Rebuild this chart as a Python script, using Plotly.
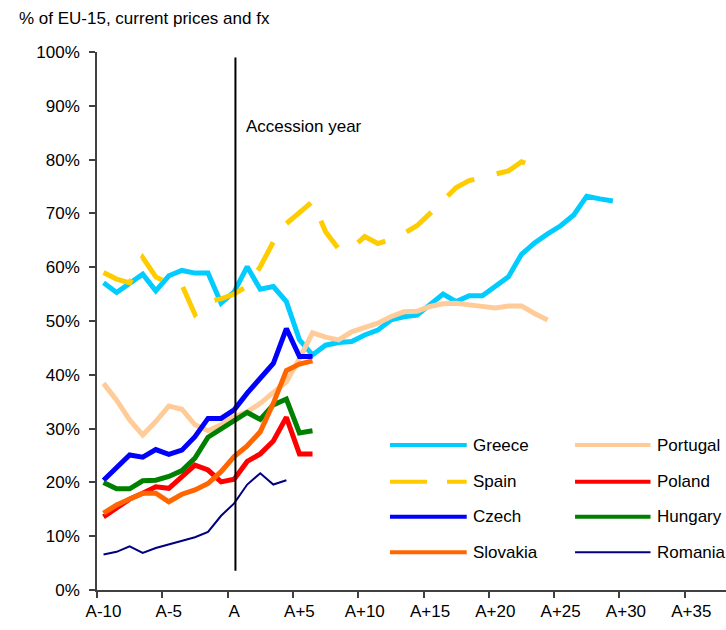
import plotly.graph_objects as go

START_YEAR = -10

GREECE = [57.1, 55.3, 57.0, 58.7, 55.6, 58.4, 59.4, 58.9, 58.9, 53.3,
          55.4, 60.1, 55.9, 56.4, 53.6, 46.5, 43.7, 45.5, 46.0, 46.2,
          47.4, 48.3, 50.2, 50.8, 51.1, 53.0, 55.0, 53.6, 54.7, 54.7,
          56.5, 58.2, 62.4, 64.5, 66.2, 67.7, 69.7, 73.2, 72.7, 72.3]
SPAIN = [59.0, 57.8, 57.1, 61.8, 58.2, 57.0, 56.7, 51.2, 53.6, 54.1,
         55.0, 56.5, 60.1, 64.7, 68.1, 70.3, 72.2, 66.6, 63.4, 63.5,
         65.7, 64.4, 65.2, 66.3, 67.7, 70.0, 72.5, 74.8, 76.1, 76.7,
         77.5, 77.9, 79.6, 78.7]
PORTUGAL = [38.4, 35.3, 31.6, 28.8, 31.3, 34.2, 33.6, 30.7, 29.6, 30.7,
            32.2, 33.1, 34.7, 36.6, 38.7, 43.0, 47.8, 47.0, 46.5, 48.0,
            48.8, 49.6, 50.8, 51.7, 51.8, 52.7, 53.2, 53.3, 53.0, 52.7,
            52.4, 52.8, 52.8, 51.4, 50.2]
CZECH = [20.4, 22.7, 25.1, 24.7, 26.1, 25.2, 26.0, 28.5, 31.9, 31.9,
         33.5, 36.6, 39.5, 42.1, 48.6, 43.4, 43.4]
POLAND = [13.6, 15.2, 16.9, 18.0, 19.2, 18.9, 21.2, 23.2, 22.3, 20.1,
          20.6, 23.9, 25.3, 27.7, 32.1, 25.3, 25.3]
HUNGARY = [20.0, 18.8, 18.8, 20.3, 20.4, 21.1, 22.2, 24.5, 28.4, 29.9,
           31.6, 33.0, 31.7, 34.4, 35.5, 29.2, 29.6]
SLOVAKIA = [14.3, 15.8, 16.9, 18.0, 18.0, 16.4, 17.8, 18.6, 19.8, 22.0,
            24.8, 26.8, 29.4, 34.7, 40.8, 42.0, 42.6]
ROMANIA = [6.6, 7.1, 8.1, 6.9, 7.8, 8.5, 9.2, 9.8, 10.8, 13.8,
           16.1, 19.6, 21.7, 19.6, 20.4]

SERIES = [
    ("Greece", GREECE, "#00CCFF", 5, "solid"),
    ("Spain", SPAIN, "#FFCC00", 5, "32px,23px"),
    ("Portugal", PORTUGAL, "#FFCC99", 5, "solid"),
    ("Czech", CZECH, "#0000FF", 5, "solid"),
    ("Poland", POLAND, "#FF0000", 5, "solid"),
    ("Hungary", HUNGARY, "#008000", 5, "solid"),
    ("Slovakia", SLOVAKIA, "#FF6600", 5, "solid"),
    ("Romania", ROMANIA, "#000080", 2, "solid"),
]

LEGEND_LEFT = ["Greece", "Spain", "Czech", "Slovakia"]
LEGEND_RIGHT = ["Portugal", "Poland", "Hungary", "Romania"]

TICK_VALS = [-10, -5, 0, 5, 10, 15, 20, 25, 30, 35]
TICK_TEXT = ["A-10", "A-5", "A", "A+5", "A+10", "A+15", "A+20", "A+25", "A+30", "A+35"]
Y_TICKS = [0, 10, 20, 30, 40, 50, 60, 70, 80, 90, 100]

FONT = "Liberation Sans, Arial, sans-serif"

fig = go.Figure()
for name, vals, color, width, dash in SERIES:
    xs = list(range(START_YEAR, START_YEAR + len(vals)))
    fig.add_trace(go.Scatter(
        x=xs, y=vals, mode="lines", name=name, showlegend=False,
        line=dict(color=color, width=width, dash=dash),
    ))

# accession year line
fig.add_shape(type="line", xref="x", yref="y", x0=0.1, x1=0.1, y0=3.6, y1=99,
              line=dict(color="black", width=2))
fig.add_annotation(x=0.1, y=86.2, xref="x", yref="y", text="Accession year",
                   showarrow=False, xanchor="left", yanchor="middle", xshift=9,
                   font=dict(size=17, color="black", family=FONT))

# title
fig.add_annotation(x=-0.127, y=1.063, xref="paper", yref="paper",
                   text="% of EU-15, current prices and fx", showarrow=False,
                   xanchor="left", yanchor="middle",
                   font=dict(size=17, color="black", family=FONT))

# manual legend
style = {s[0]: s for s in SERIES}
row_y = [0.2695, 0.2013, 0.1362, 0.0701]
cols = [(LEGEND_LEFT, 0.4658, 0.5878, 0.594), (LEGEND_RIGHT, 0.760, 0.880, 0.887)]
for names, lx0, lx1, tx in cols:
    for nm, yy in zip(names, row_y):
        _, _, color, width, dash = style[nm]
        ldash = "37px,20px" if dash != "solid" else "solid"
        fig.add_shape(type="line", xref="paper", yref="paper", x0=lx0, x1=lx1,
                      y0=yy, y1=yy,
                      line=dict(color=color, width=4 if width > 2 else 2, dash=ldash))
        fig.add_annotation(x=tx, y=yy, xref="paper", yref="paper", text=nm,
                           showarrow=False, xanchor="left", yanchor="middle",
                           font=dict(size=17, color="black", family=FONT))

fig.update_layout(
    width=726, height=630,
    margin=dict(l=97, r=0, t=52, b=40),
    plot_bgcolor="white", paper_bgcolor="white",
    font=dict(family=FONT, size=17, color="black"),
    showlegend=False,
)
fig.update_xaxes(
    range=[-10.5, 37.66], tickmode="array", tickvals=TICK_VALS, ticktext=TICK_TEXT,
    ticks="", showgrid=False, zeroline=False, showline=True, linecolor="#404040",
    linewidth=1.5, ticklabelstandoff=5,
    minor=dict(tickmode="array", tickvals=[v - 0.5 for v in TICK_VALS],
               ticks="outside", ticklen=6, tickcolor="#404040", tickwidth=1.5,
               showgrid=False),
)
fig.update_yaxes(
    range=[0, 100], tickmode="array", tickvals=Y_TICKS,
    ticktext=[f"{v}%" for v in Y_TICKS],
    ticks="outside", ticklen=6, tickcolor="#404040", tickwidth=1.5,
    showgrid=False, zeroline=False, showline=True, linecolor="#404040",
    linewidth=1.5, ticklabelstandoff=6,
)

# remove the default page margin so the 726x630 figure fills the window exactly
fig.write_html(
    "out.html",
    config={"displayModeBar": False},
    post_script=(
        "document.body.style.margin='0';"
        "document.body.style.overflow='hidden';"
        "document.documentElement.style.overflow='hidden';"
    ),
)
